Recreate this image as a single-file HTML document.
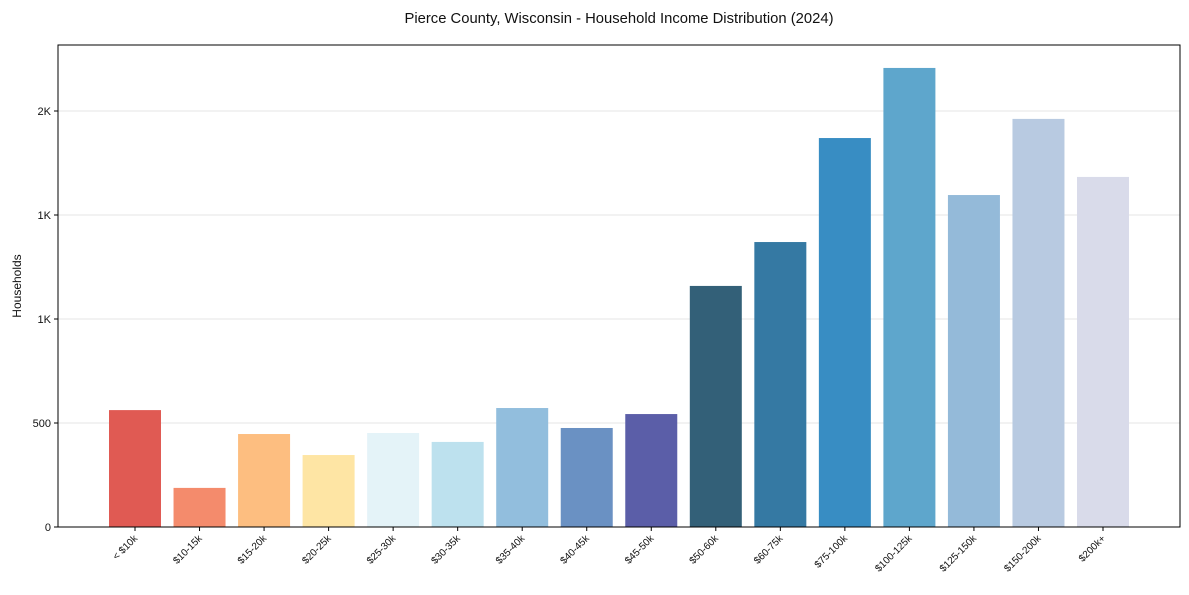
<!DOCTYPE html>
<html><head><meta charset="utf-8"><style>
body{margin:0;background:#fff;font-family:"Liberation Sans",Arial,sans-serif}
svg text{font-family:"Liberation Sans",Arial,sans-serif;fill:#111}
</style></head><body>
<svg id="chart" width="1189" height="590">
<text x="619" y="23" text-anchor="middle" font-size="14.8">Pierce County, Wisconsin - Household Income Distribution (2024)</text>
<g id="grid"></g><g id="bars"></g><g id="axes"></g>
<text transform="translate(21,286) rotate(-90)" text-anchor="middle" font-size="12">Households</text>
</svg>
<script>
const categories=["< $10k","$10-15k","$15-20k","$20-25k","$25-30k","$30-35k","$35-40k","$40-45k","$45-50k","$50-60k","$60-75k","$75-100k","$100-125k","$125-150k","$150-200k","$200k+"];
const households=[562,188,447,346,452,409,572,476,543,1159,1370,1870,2207,1596,1962,1683];
const colors=["#e05a53","#f48b6c","#fdbe80","#fee5a4","#e4f3f8","#bde1ee","#92bedd","#6a91c3","#5b5ea8","#336078","#3579a3","#388dc3","#5ea6cc","#94bad9","#b8cae1","#d9dbea"];
const yTicks=[0,500,1000,1500,2000];
const yTickLabels=["0","500","1K","1K","2K"];
const NS="http://www.w3.org/2000/svg";
const L=58,R=1180,T=45,B=527;
const y=v=>B-v*(104/500);
const step=(1103-135)/(categories.length-1);
const x=i=>135+step*i;
const bw=52;
function mk(t,a,p){const e=document.createElementNS(NS,t);for(const k in a)e.setAttribute(k,a[k]);p.appendChild(e);return e;}
const grid=document.getElementById('grid'),bars=document.getElementById('bars'),axes=document.getElementById('axes');
yTicks.forEach((v,i)=>{
 if(v>0){const g=mk('line',{x1:L,x2:R,y1:y(v),y2:y(v),stroke:'#e6e6e6','stroke-width':1},grid);
 
 }
 mk('line',{x1:L-4,x2:L,y1:y(v),y2:y(v),stroke:'#000'},axes);
 const t=mk('text',{x:L-7,y:y(v)+4,'text-anchor':'end','font-size':11},axes);t.textContent=yTickLabels[i];
 
 
});
categories.forEach((c,i)=>{
 const r=mk('rect',{x:x(i)-bw/2,y:y(households[i]),width:bw,height:B-y(households[i]),fill:colors[i]},bars);
 
 
 mk('line',{x1:x(i),x2:x(i),y1:B,y2:B+4,stroke:'#000'},axes);
 const t=mk('text',{transform:`translate(${x(i)+3},${B+12}) rotate(-45)`,'text-anchor':'end','font-size':10},axes);t.textContent=c;
 
 
});
const f=mk('rect',{x:L,y:T,width:R-L,height:B-T,fill:'none',stroke:'#000','stroke-width':1},axes);


</script>
</body></html>
